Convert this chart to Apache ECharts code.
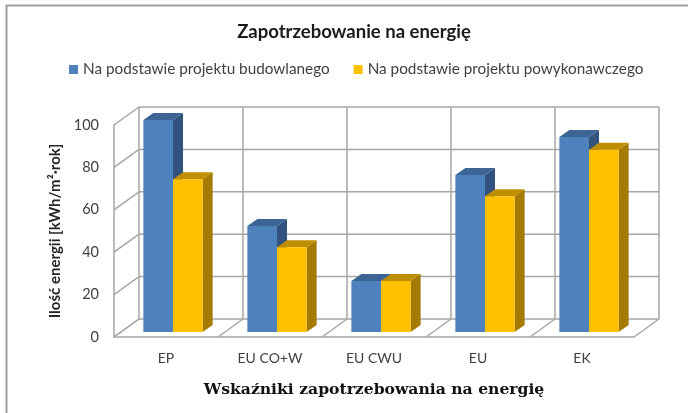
<!DOCTYPE html>
<html>
<head>
<meta charset="utf-8">
<style>
  html, body { margin: 0; padding: 0; background: #fff; }
  #chart { width: 688px; height: 413px; }
</style>
<script src="https://cdn.jsdelivr.net/npm/echarts@6/dist/echarts.min.js"></script>
</head>
<body>
<div id="chart"></div>
<script>
var categories = ['EP', 'EU CO+W', 'EU CWU', 'EU', 'EK'];
var seriesNames = ['Na podstawie projektu budowlanego', 'Na podstawie projektu powykonawczego'];
var projectValues = [100, 50, 24, 74, 92];
var asBuiltValues = [72, 40, 24, 64, 86];
var yTicks = [0, 20, 40, 60, 80, 100];

// glebokosc pseudo 3D w pikselach
var WALL_DX = 25, WALL_DY = -18;
var BAR_SHIFT_X = 7, BAR_SHIFT_Y = -5;
var BAR_DX = 10, BAR_DY = -7;
var BAR_BAND = 0.285;
var WALL_LINE = { stroke: '#a6a6a6', lineWidth: 1.5, fill: 'none' };

function line(x1, y1, x2, y2) {
  return { type: 'line', shape: { x1: x1, y1: y1, x2: x2, y2: y2 }, style: WALL_LINE, silent: true };
}

function poly(points, fill) {
  return { type: 'polygon', shape: { points: points }, style: { fill: fill } };
}

// linie poziome: sciana boczna + sciana tylna
function renderHorizontal(params, api) {
  var p = api.coord([0, api.value(1)]);
  var band = api.size([1, 0])[0];
  var left = p[0] - band / 2;
  var right = left + band * categories.length;
  return {
    type: 'group',
    children: [
      line(left, p[1], left + WALL_DX, p[1] + WALL_DY),
      line(left + WALL_DX, p[1] + WALL_DY, right + WALL_DX, p[1] + WALL_DY)
    ]
  };
}

// linie pionowe: podloga + sciana tylna
function renderVertical(params, api) {
  var idx = api.value(0);
  var band = api.size([1, 0])[0];
  var base = api.coord([0, 0]);
  var top = api.coord([0, yTicks[yTicks.length - 1]]);
  var x = base[0] - band / 2 + band * idx;
  return {
    type: 'group',
    children: [
      line(x, base[1], x + WALL_DX, base[1] + WALL_DY),
      line(x + WALL_DX, base[1] + WALL_DY, x + WALL_DX, top[1] + WALL_DY)
    ]
  };
}

function barRenderer(side, colors) {
  return function (params, api) {
    var top = api.coord([api.value(0), api.value(1)]);
    var base = api.coord([api.value(0), 0]);
    var w = api.size([1, 0])[0] * BAR_BAND;
    var x0 = top[0] + BAR_SHIFT_X + (side === 0 ? -w : 0);
    var x1 = x0 + w;
    var yt = top[1] + BAR_SHIFT_Y;
    var yb = base[1] + BAR_SHIFT_Y;
    return {
      type: 'group',
      children: [
        poly([[x1, yt], [x1 + BAR_DX, yt + BAR_DY], [x1 + BAR_DX, yb + BAR_DY], [x1, yb]], colors.side),
        poly([[x0, yt], [x0 + BAR_DX, yt + BAR_DY], [x1 + BAR_DX, yt + BAR_DY], [x1, yt]], colors.top),
        { type: 'rect', shape: { x: x0, y: yt, width: w, height: yb - yt }, style: { fill: colors.front } }
      ]
    };
  };
}

function barData(values) {
  return values.map(function (v, i) { return [i, v]; });
}

var boundaries = categories.map(function (c, i) { return [i, 0]; });
boundaries.push([categories.length, 0]);

var chart = echarts.init(document.getElementById('chart'));
chart.setOption({
  backgroundColor: '#fff',
  animation: false,
  textStyle: { fontFamily: 'Lato' },
  title: {
    text: 'Zapotrzebowanie na energię',
    left: 349,
    top: 18,
    textAlign: 'center',
    textStyle: { fontFamily: 'Lato', fontSize: 18.5, fontWeight: 'bold', color: '#1a1a1a' }
  },
  legend: {
    data: seriesNames,
    left: 64,
    top: 57,
    itemWidth: 9,
    itemHeight: 9,
    itemGap: 24,
    icon: 'rect',
    textStyle: { fontFamily: 'Lato', fontSize: 15.3, color: '#404040' }
  },
  grid: { left: 114, right: 54, top: 125, bottom: 76 },
  xAxis: {
    type: 'category',
    data: categories,
    axisLine: { lineStyle: { color: '#a6a6a6', width: 1.5 } },
    axisTick: { show: false },
    axisLabel: { color: '#404040', fontFamily: 'Lato', fontSize: 14, margin: 14 },
    name: 'Wskaźniki zapotrzebowania na energię',
    nameLocation: 'middle',
    nameGap: 45,
    nameTextStyle: { fontFamily: 'DejaVu Serif', fontWeight: 'bold', fontSize: 15.6, color: '#111' }
  },
  yAxis: {
    type: 'value',
    min: 0,
    max: 100,
    interval: 20,
    axisLine: { show: true, lineStyle: { color: '#a6a6a6', width: 1.5 } },
    axisTick: { show: false },
    splitLine: { show: false },
    axisLabel: { color: '#404040', fontFamily: 'Lato', fontSize: 14.5, margin: 15 },
    name: 'Ilość energii [kWh/m²·rok]',
    nameLocation: 'middle',
    nameGap: 46,
    nameTextStyle: { fontFamily: 'Lato', fontWeight: 'bold', fontSize: 15, color: '#262626' }
  },
  series: [
    {
      type: 'custom', silent: true, clip: false, z: 1,
      data: yTicks.map(function (t) { return [0, t]; }),
      encode: { x: 0, y: 1 },
      renderItem: renderHorizontal
    },
    {
      type: 'custom', silent: true, clip: false, z: 1,
      data: boundaries,
      encode: { y: 1 },
      renderItem: renderVertical
    },
    {
      name: seriesNames[0],
      type: 'custom', clip: false, z: 3,
      itemStyle: { color: '#4f81bd' },
      data: barData(projectValues),
      encode: { x: 0, y: 1 },
      renderItem: barRenderer(0, { front: '#4f81bd', top: '#3c6595', side: '#32537d' })
    },
    {
      name: seriesNames[1],
      type: 'custom', clip: false, z: 4,
      itemStyle: { color: '#ffc000' },
      data: barData(asBuiltValues),
      encode: { x: 0, y: 1 },
      renderItem: barRenderer(1, { front: '#ffc000', top: '#bf8f00', side: '#a47b00' })
    }
  ],
  graphic: [
    { type: 'polyline', silent: true, shape: { points: [[6.5, 413], [6.5, 5.5], [688, 5.5]] }, style: { stroke: '#a0a0a0', lineWidth: 2, fill: 'none' } }
  ]
});
</script>
</body>
</html>
